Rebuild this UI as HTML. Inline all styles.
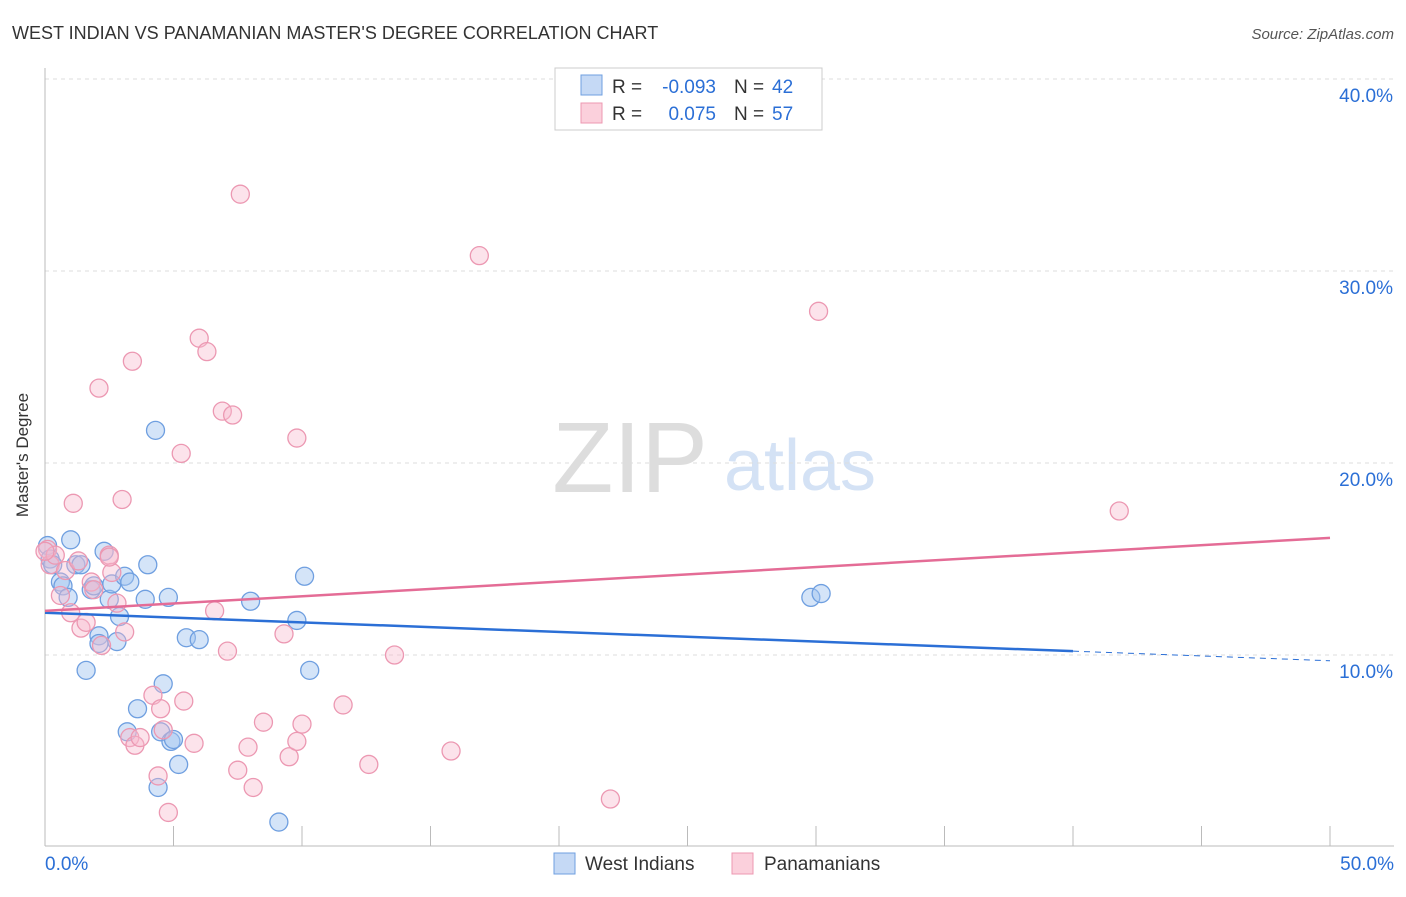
<!DOCTYPE html>
<html><head><meta charset="utf-8"><style>
body{margin:0;background:#fff;font-family:"Liberation Sans",sans-serif}
svg text{font-family:"Liberation Sans",sans-serif}
</style></head><body>
<svg width="1406" height="892" xmlns="http://www.w3.org/2000/svg">
<text x="12" y="39" font-size="18" fill="#333">WEST INDIAN VS PANAMANIAN MASTER'S DEGREE CORRELATION CHART</text>
<text x="1394" y="39" font-size="15" fill="#555" font-style="italic" text-anchor="end">Source: ZipAtlas.com</text>
<text x="630" y="492" font-size="100" fill="#ddd" font-family="Liberation Serif" text-anchor="middle">ZIP</text>
<text x="800" y="490" font-size="72" fill="#d4e2f5" text-anchor="middle">atlas</text>
<g id="grid"></g>
<line x1="45" y1="68" x2="45" y2="846" stroke="#bbb"/>
<line x1="45" y1="846" x2="1394" y2="846" stroke="#bbb"/>
<text x="28" y="455" font-size="17" fill="#333" text-anchor="middle" transform="rotate(-90 28 455)">Master's Degree</text>
<g id="ticks"></g>
<g id="pts"></g>
<g id="trend"></g>
<g>
<rect x="555" y="68" width="267" height="62" fill="#fff" stroke="#ccc"/>
<rect x="581" y="75" width="21" height="20" fill="#c5d9f5" stroke="#6f9fe0"/>
<rect x="581" y="103" width="21" height="20" fill="#fbd0dc" stroke="#ec98b2"/>
<text x="612" y="93" font-size="19" fill="#333">R =</text>
<text x="716" y="93" font-size="19" fill="#2b6fd6" text-anchor="end">-0.093</text>
<text x="734" y="93" font-size="19" fill="#333">N =</text>
<text x="772" y="93" font-size="19" fill="#2b6fd6">42</text>
<text x="612" y="120" font-size="19" fill="#333">R =</text>
<text x="716" y="120" font-size="19" fill="#2b6fd6" text-anchor="end">0.075</text>
<text x="734" y="120" font-size="19" fill="#333">N =</text>
<text x="772" y="120" font-size="19" fill="#2b6fd6">57</text>
</g>
<g>
<rect x="554" y="853" width="21" height="21" fill="#c5d9f5" stroke="#6f9fe0"/>
<text x="585" y="870" font-size="19" fill="#333">West Indians</text>
<rect x="732" y="853" width="21" height="21" fill="#fbd0dc" stroke="#ec98b2"/>
<text x="764" y="870" font-size="19" fill="#333">Panamanians</text>
</g>
</svg>
<script>
const yTicks=[10,20,30,40];
const yTickLabels=["10.0%","20.0%","30.0%","40.0%"];
const xTickLabels=["0.0%","50.0%"];
const blueX=[0.1,0.2,0.3,0.6,0.7,0.9,1.0,1.2,1.4,1.6,1.8,1.9,2.1,2.1,2.3,2.5,2.6,2.8,2.9,3.1,3.3,3.6,3.9,4.0,4.3,4.4,4.5,4.6,4.8,4.9,5.0,5.2,5.5,6.0,8.0,9.1,9.8,10.1,10.3,29.8,30.2,3.2];
const blueY=[15.7,15.0,14.7,13.8,13.6,13.0,16.0,14.7,14.7,9.2,13.4,13.6,11.0,10.6,15.4,12.9,13.7,10.7,12.0,14.1,13.8,7.2,12.9,14.7,21.7,3.1,6.0,8.5,13.0,5.5,5.6,4.3,10.9,10.8,12.8,1.3,11.8,14.1,9.2,13.0,13.2,6.0];
const pinkX=[0.1,0.2,0.4,0.6,0.8,1.0,1.1,1.3,1.4,1.6,1.8,1.9,2.1,2.2,2.5,2.6,2.8,3.0,3.1,3.3,3.4,3.5,3.7,4.2,4.4,4.5,4.6,4.8,5.3,5.4,5.8,6.0,6.3,6.6,6.9,7.1,7.3,7.5,7.6,7.9,8.1,8.5,9.5,9.3,9.8,9.8,10.0,11.6,12.6,13.6,15.8,16.9,22.0,30.1,41.8,0.0,2.5];
const pinkY=[15.5,14.7,15.2,13.1,14.4,12.2,17.9,14.9,11.4,11.7,13.8,13.4,23.9,10.5,15.2,14.3,12.7,18.1,11.2,5.7,25.3,5.3,5.7,7.9,3.7,7.2,6.1,1.8,20.5,7.6,5.4,26.5,25.8,12.3,22.7,10.2,22.5,4.0,34.0,5.2,3.1,6.5,4.7,11.1,21.3,5.5,6.4,7.4,4.3,10.0,5.0,30.8,2.5,27.9,17.5,15.4,15.1];
const blueTrend=[12.2,9.7];
const pinkTrend=[12.3,16.1];
const X=v=>45+v*25.7, Y=v=>847-v*19.2;
const NS="http://www.w3.org/2000/svg";
function mk(t,a,p){const e=document.createElementNS(NS,t);for(const k in a)e.setAttribute(k,a[k]);p.appendChild(e);return e;}
const grid=document.getElementById('grid'),ticks=document.getElementById('ticks'),pts=document.getElementById('pts'),tr=document.getElementById('trend');
yTicks.forEach((t,i)=>{
 const l=mk('line',{x1:45,x2:1394,y1:Y(t),y2:Y(t),stroke:'#ddd','stroke-dasharray':'4,4'},grid);
 
 
 const tx=mk('text',{x:1393,y:Y(t)+23,'font-size':19,fill:'#2b6fd6','text-anchor':'end'},ticks);
 tx.textContent=yTickLabels[i];
 
 
});
for(let i=0;i<=10;i++){
 const l=mk('line',{x1:X(i*5),x2:X(i*5),y1:826,y2:846,stroke:'#bbb'},ticks);
 
 
}
[[0,'start',45],[1,'end',1394]].forEach(([i,a,x])=>{
 const tx=mk('text',{x:x,y:870,'font-size':19,fill:'#2b6fd6','text-anchor':a},ticks);
 tx.textContent=xTickLabels[i];
 
 
});
blueX.forEach((v,i)=>{
 const c=mk('circle',{cx:X(v),cy:Y(blueY[i]),r:9,fill:'rgba(160,195,240,0.45)',stroke:'#6f9fe0','stroke-width':1.3},pts);
 
 
});
pinkX.forEach((v,i)=>{
 const c=mk('circle',{cx:X(v),cy:Y(pinkY[i]),r:9,fill:'rgba(248,185,205,0.4)',stroke:'#ec98b2','stroke-width':1.3},pts);
 
 
});
const by=x=>blueTrend[0]+(blueTrend[1]-blueTrend[0])*x/50;
let l=mk('line',{x1:X(0),y1:Y(by(0)),x2:X(40),y2:Y(by(40)),stroke:'#2b6fd6','stroke-width':2.5},tr);


l=mk('line',{x1:X(40),y1:Y(by(40)),x2:X(50),y2:Y(by(50)),stroke:'#2b6fd6','stroke-width':1,'stroke-dasharray':'6,5'},tr);


l=mk('line',{x1:X(0),y1:Y(pinkTrend[0]),x2:X(50),y2:Y(pinkTrend[1]),stroke:'#e46c96','stroke-width':2.5},tr);


</script>
</body></html>
